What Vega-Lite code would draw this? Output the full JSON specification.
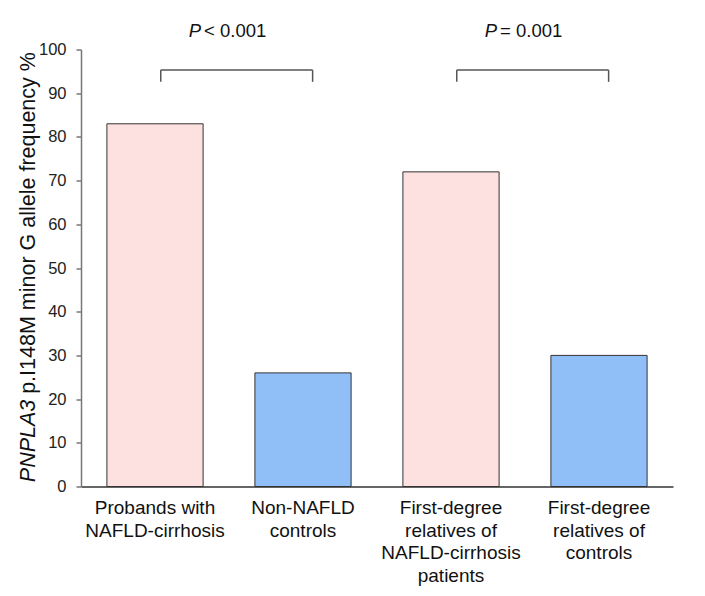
{
  "$schema": "https://vega.github.io/schema/vega-lite/v6.json",
  "width": 592,
  "height": 437,
  "autosize": {"type": "none"},
  "padding": {"left": 81, "top": 49.5, "right": 32, "bottom": 109.5},
  "background": "white",
  "config": {
    "view": {"stroke": null},
    "font": "Liberation Sans",
    "text": {"font": "Liberation Sans"}
  },
  "datasets": {
    "bars": [
      {"group": "Probands with|NAFLD-cirrhosis", "value": 83, "kind": "case"},
      {"group": "Non-NAFLD|controls", "value": 26, "kind": "control"},
      {"group": "First-degree|relatives of|NAFLD-cirrhosis|patients", "value": 72, "kind": "case"},
      {"group": "First-degree|relatives of|controls", "value": 30, "kind": "control"}
    ],
    "brackets": [
      {"from": "Probands with|NAFLD-cirrhosis", "to": "Non-NAFLD|controls", "top": 95.3, "low": 92.6, "sign": "< 0.001"},
      {"from": "First-degree|relatives of|NAFLD-cirrhosis|patients", "to": "First-degree|relatives of|controls", "top": 95.3, "low": 92.6, "sign": "= 0.001"}
    ],
    "ytitle": [
      {"group": "Probands with|NAFLD-cirrhosis", "italic": "PNPLA3", "rest": "p.I148M minor G allele frequency %", "y1": 1, "y2": 21.2}
    ]
  },
  "layer": [
    {
      "data": {"name": "bars"},
      "mark": {"type": "bar", "stroke": "#333333", "strokeWidth": 1},
      "encoding": {
        "x": {
          "field": "group",
          "type": "nominal",
          "scale": {
            "domain": [
              "Probands with|NAFLD-cirrhosis",
              "Non-NAFLD|controls",
              "First-degree|relatives of|NAFLD-cirrhosis|patients",
              "First-degree|relatives of|controls"
            ],
            "paddingInner": 0.35,
            "paddingOuter": 0.175
          },
          "axis": {
            "title": null,
            "labelAngle": 0,
            "labelExpr": "split(datum.label, '|')",
            "labelFontSize": 19,
            "labelColor": "#111111",
            "labelLineHeight": 22.5,
            "labelPadding": 12,
            "labelBaseline": "top",
            "ticks": false,
            "domainColor": "#333333",
            "domainWidth": 1.5,
            "labelLimit": 300
          }
        },
        "y": {
          "field": "value",
          "type": "quantitative",
          "scale": {"domain": [0, 100], "nice": false},
          "axis": {
            "title": null,
            "values": [0, 10, 20, 30, 40, 50, 60, 70, 80, 90, 100],
            "grid": false,
            "labelFontSize": 16.5,
            "labelColor": "#222222",
            "labelPadding": 10,
            "tickSize": 5,
            "tickColor": "#777777",
            "tickWidth": 1.5,
            "domainColor": "#777777",
            "domainWidth": 1.5
          }
        },
        "fill": {
          "field": "kind",
          "type": "nominal",
          "scale": {"domain": ["case", "control"], "range": ["#fde0e0", "#90bff8"]},
          "legend": null
        }
      }
    },
    {
      "data": {"name": "brackets"},
      "mark": {"type": "rule", "color": "#555555", "strokeWidth": 1.5},
      "encoding": {
        "x": {"field": "from", "type": "nominal", "bandPosition": 0.56},
        "x2": {"field": "to", "bandPosition": 0.6},
        "y": {"field": "top", "type": "quantitative"}
      }
    },
    {
      "data": {"name": "brackets"},
      "mark": {"type": "rule", "color": "#555555", "strokeWidth": 1.5},
      "encoding": {
        "x": {"field": "from", "type": "nominal", "bandPosition": 0.56},
        "y": {"field": "low", "type": "quantitative"},
        "y2": {"field": "top"}
      }
    },
    {
      "data": {"name": "brackets"},
      "mark": {"type": "rule", "color": "#555555", "strokeWidth": 1.5},
      "encoding": {
        "x": {"field": "to", "type": "nominal", "bandPosition": 0.6},
        "y": {"field": "low", "type": "quantitative"},
        "y2": {"field": "top"}
      }
    },
    {
      "data": {"name": "brackets"},
      "mark": {"type": "text", "text": "P", "fontStyle": "italic", "fontSize": 18.5, "align": "right", "baseline": "alphabetic", "dx": -2, "color": "#111111"},
      "encoding": {
        "x": {"field": "from", "type": "nominal", "bandPosition": 1},
        "y": {"datum": 102.9, "type": "quantitative"}
      }
    },
    {
      "data": {"name": "brackets"},
      "mark": {"type": "text", "fontSize": 18.5, "align": "left", "baseline": "alphabetic", "dx": 1, "color": "#111111"},
      "encoding": {
        "x": {"field": "from", "type": "nominal", "bandPosition": 1},
        "y": {"datum": 102.9, "type": "quantitative"},
        "text": {"field": "sign"}
      }
    },
    {
      "data": {"name": "ytitle"},
      "mark": {"type": "text", "fontStyle": "italic", "fontSize": 21.5, "angle": 270, "align": "left", "baseline": "alphabetic", "dy": -72, "color": "#111111"},
      "encoding": {
        "x": {"field": "group", "type": "nominal", "bandPosition": 0},
        "y": {"field": "y1", "type": "quantitative"},
        "text": {"field": "italic"}
      }
    },
    {
      "data": {"name": "ytitle"},
      "mark": {"type": "text", "fontSize": 21.5, "angle": 270, "align": "left", "baseline": "alphabetic", "dy": -72, "color": "#111111"},
      "encoding": {
        "x": {"field": "group", "type": "nominal", "bandPosition": 0},
        "y": {"field": "y2", "type": "quantitative"},
        "text": {"field": "rest"}
      }
    }
  ]
}
